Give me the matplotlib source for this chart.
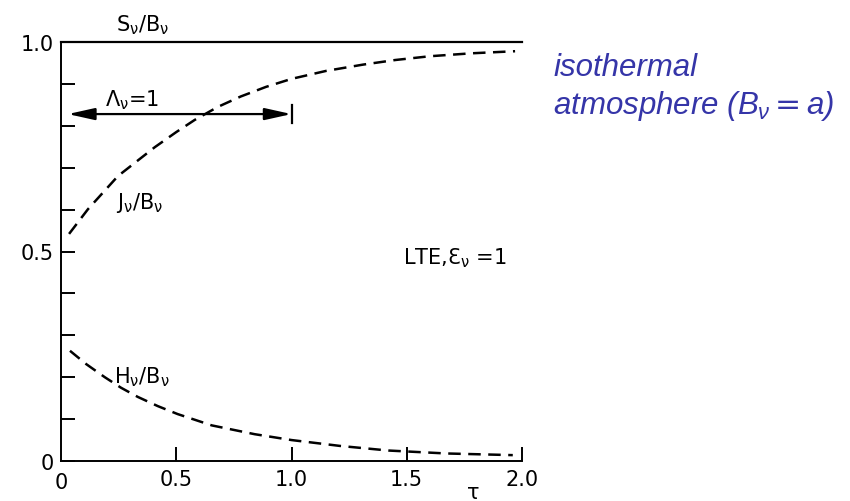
#!/usr/bin/env python3
"""
等温大气 (LTE) 中 S/B, J/B, H/B 随光学深度 tau 的变化
"""

import matplotlib
matplotlib.use('Agg')
import matplotlib.pyplot as plt
from matplotlib.ticker import MultipleLocator

plt.rcParams['font.family'] = ['DejaVu Sans']
plt.rcParams['mathtext.fontset'] = 'custom'
plt.rcParams['mathtext.rm'] = 'DejaVu Sans'
plt.rcParams['mathtext.it'] = 'Liberation Sans:italic'

# 源函数 S/B (常数 1)
tau_S = [0.0, 2.0]
S_over_B = [1.0, 1.0]

# 平均强度 J/B
tau_J = [0.035, 0.117, 0.247, 0.407, 0.50, 0.58, 0.68, 0.78, 0.89, 1.0,
         1.15, 1.31, 1.45, 1.60, 1.78, 1.97]
J_over_B = [0.542, 0.601, 0.680, 0.749, 0.785, 0.814, 0.845, 0.870, 0.893, 0.912,
            0.931, 0.946, 0.957, 0.966, 0.973, 0.978]

# 通量 H/B
tau_H = [0.039, 0.11, 0.19, 0.26, 0.333, 0.42, 0.506, 0.654, 0.84, 1.0,
         1.21, 1.42, 1.67, 1.96]
H_over_B = [0.263, 0.231, 0.200, 0.175, 0.153, 0.131, 0.112, 0.085, 0.064, 0.050,
            0.036, 0.025, 0.018, 0.014]

# 坐标轴刻度
x_ticks = [0.5, 1.0, 1.5, 2.0]
x_tick_labels = ['0.5', '1.0', '1.5', '2.0']
y_ticks = [0.0, 0.5, 1.0]
y_tick_labels = ['0', '0.5', '1.0']

# Lambda 算子箭头 (tau 从 0 到 1)
lambda_start = 0.03
lambda_end = 1.0
lambda_y = 0.828

blue = '#3535a8'

fig = plt.figure(figsize=(8.5, 5.02), dpi=100)
ax = fig.add_axes([61 / 850, 40 / 502, 461 / 850, 419 / 502])

ax.plot(tau_S, S_over_B, color='black', lw=1.6, clip_on=False)
ax.plot(tau_J, J_over_B, color='black', lw=1.8, dashes=(5, 3), clip_on=False)
ax.plot(tau_H, H_over_B, color='black', lw=1.8, dashes=(5, 3), clip_on=False)

ax.set_xlim(0, 2.0)
ax.set_ylim(0, 1.0)
for side in ['top', 'right']:
    ax.spines[side].set_visible(False)
for side in ['left', 'bottom']:
    ax.spines[side].set_linewidth(1.4)

ax.set_xticks(x_ticks, x_tick_labels)
ax.set_yticks(y_ticks, y_tick_labels)
ax.yaxis.set_minor_locator(MultipleLocator(0.1))
ax.tick_params(axis='both', which='both', direction='in', length=10, width=1.4,
               labelsize=15)
ax.tick_params(axis='x', pad=6)
ax.tick_params(axis='y', pad=5)

# x 轴原点 "0" 和 tau
ax.text(0.0, -0.05, '0', ha='center', va='center', fontsize=15)
ax.text(1.79, -0.074, 'τ', ha='center', va='center', fontsize=15)

# Lambda 箭头
ax.annotate('', xy=(lambda_start, lambda_y), xytext=(lambda_end, lambda_y),
            arrowprops=dict(arrowstyle='<|-|>,head_length=0.9,head_width=0.2',
                            color='black', lw=1.6, shrinkA=0, shrinkB=0,
                            mutation_scale=18))
ax.plot([lambda_end, lambda_end], [lambda_y - 0.022, lambda_y + 0.022],
        color='black', lw=1.6)

# 曲线标注
ax.text(0.355, 1.043, r'S$_\mathregular{\nu}$/B$_\mathregular{\nu}$',
        ha='center', va='center', fontsize=15, clip_on=False)
ax.text(0.31, 0.862, r'Λ$_\mathregular{\nu}$=1', ha='center', va='center', fontsize=15)
ax.text(0.34, 0.618, r'J$_\mathregular{\nu}$/B$_\mathregular{\nu}$',
        ha='center', va='center', fontsize=15)
ax.text(0.35, 0.203, r'H$_\mathregular{\nu}$/B$_\mathregular{\nu}$',
        ha='center', va='center', fontsize=15)
ax.text(1.71, 0.487, r'LTE,Ɛ$_\mathregular{\nu}$ =1', ha='center', va='center',
        fontsize=15)

# 右侧蓝色说明
fig.text(553 / 850, 1 - 68 / 502, 'isothermal', color=blue, style='italic',
         fontsize=22.5, ha='left', va='center', family='Liberation Sans')
fig.text(553 / 850, 1 - 106 / 502, r'atmosphere ($B_\nu = a$)', color=blue,
         style='italic', fontsize=22.5, ha='left', va='center', family='Liberation Sans')

fig.savefig('out.png', dpi=100)
